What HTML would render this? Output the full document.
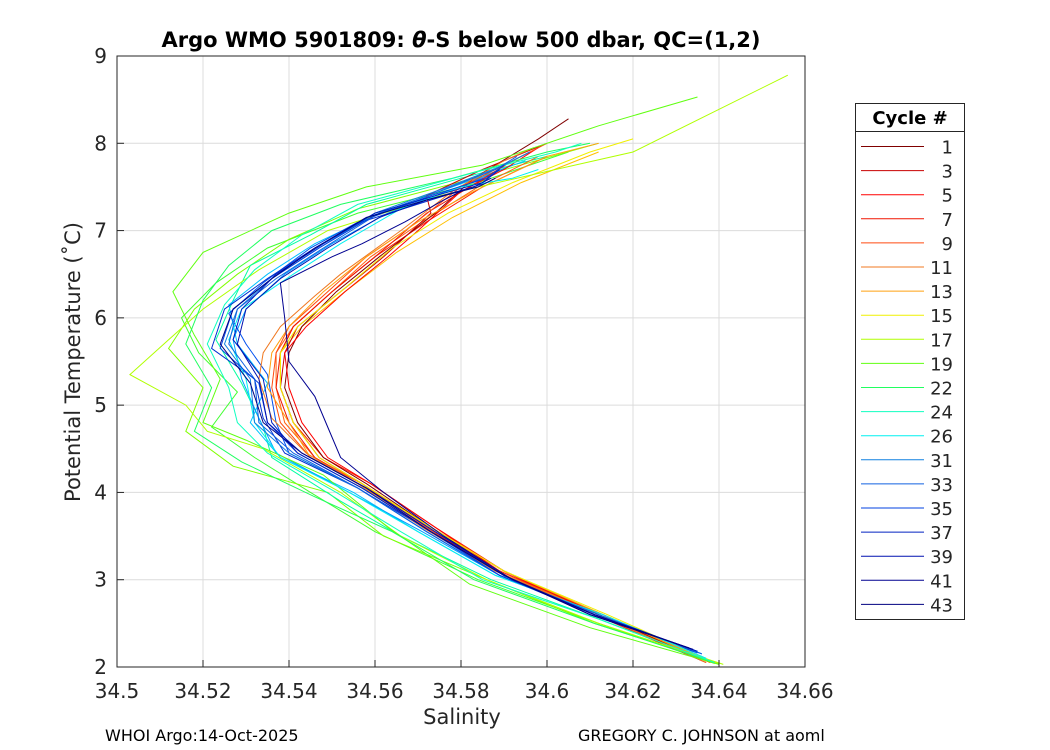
<!DOCTYPE html>
<html><head><meta charset="utf-8"><style>
body{margin:0;background:#fff;}
svg{display:block;font-family:"Liberation Sans","DejaVu Sans",sans-serif;}
</style></head><body>
<svg id="chart" width="1050" height="750">
<rect width="1050" height="750" fill="#fff"/>
<text x="461" y="47" text-anchor="middle" font-size="21" font-weight="bold" font-family="DejaVu Sans, sans-serif">Argo WMO 5901809: <tspan font-style="italic">θ</tspan>-S below 500 dbar,  QC=(1,2)</text>
<g id="grid"></g>
<g id="series"></g>
<rect x="117" y="56" width="688" height="611" fill="none" stroke="#262626" stroke-width="1"/>
<g id="ticks" font-family="DejaVu Sans, sans-serif" font-size="20" fill="#262626"></g>
<text x="462" y="724" text-anchor="middle" font-size="21" font-family="DejaVu Sans, sans-serif" fill="#262626">Salinity</text>
<text transform="translate(80,362) rotate(-90)" text-anchor="middle" font-size="21" font-family="DejaVu Sans, sans-serif" fill="#262626">Potential Temperature (˚C)</text>
<text x="105" y="741" font-size="16" font-family="DejaVu Sans, sans-serif">WHOI Argo:14-Oct-2025</text>
<text x="578" y="741" font-size="16" font-family="DejaVu Sans, sans-serif">GREGORY C. JOHNSON at aoml</text>
<g id="legend" font-family="DejaVu Sans, sans-serif"></g>
</svg>
<script>
const cycles=[1,3,5,7,9,11,13,15,17,19,22,24,26,31,33,35,37,39,41,43];
const colors=["#800000","#c80000","#ff0000","#f01500","#ff4a10","#f07820","#ffa010","#f0f000","#b0ff00","#60ff10","#20ff60","#10ffc0","#00f0f0","#1080e0","#1060e0","#0040e0","#0020c0","#0010b0","#000090","#000080"];
const xTicks=[34.5,34.52,34.54,34.56,34.58,34.6,34.62,34.64,34.66];
const yTicks=[2,3,4,5,6,7,8,9];
const sal=[
[34.638,34.612,34.59,34.573,34.558,34.548,34.542,34.539,34.540,34.543,34.551,34.561,34.574,34.583,34.598,34.605],
[34.637,34.611,34.588,34.572,34.557,34.547,34.541,34.538,34.539,34.542,34.552,34.562,34.573,34.572,34.585,34.600],
[34.638,34.613,34.589,34.574,34.559,34.549,34.543,34.540,34.539,34.544,34.553,34.563,34.570,34.580,34.590,34.598],
[34.637,34.612,34.590,34.573,34.556,34.546,34.540,34.537,34.538,34.541,34.550,34.560,34.572,34.582,34.592,34.596],
[34.638,34.611,34.589,34.572,34.557,34.545,34.538,34.536,34.537,34.540,34.549,34.558,34.567,34.580,34.594,34.600],
[34.637,34.612,34.588,34.571,34.556,34.544,34.536,34.533,34.534,34.538,34.546,34.552,34.566,34.578,34.590,34.597],
[34.638,34.613,34.590,34.573,34.556,34.545,34.540,34.535,34.536,34.540,34.548,34.558,34.570,34.583,34.600,34.612],
[34.640,34.614,34.590,34.573,34.557,34.547,34.541,34.538,34.538,34.542,34.552,34.564,34.577,34.592,34.610,34.620],
[34.641,34.612,34.586,34.566,34.552,34.534,34.521,34.516,34.503,34.512,34.520,34.533,34.549,34.575,34.620,34.656],
[34.640,34.610,34.582,34.563,34.548,34.530,34.520,34.524,34.518,34.513,34.520,34.540,34.558,34.585,34.612,34.635],
[34.639,34.611,34.583,34.564,34.546,34.529,34.518,34.522,34.516,34.520,34.526,34.536,34.552,34.578,34.600,34.610],
[34.639,34.612,34.585,34.566,34.551,34.535,34.528,34.526,34.521,34.525,34.532,34.543,34.556,34.582,34.602,34.608],
[34.637,34.613,34.588,34.570,34.554,34.538,34.532,34.530,34.526,34.529,34.541,34.552,34.566,34.580,34.592,34.598],
[34.636,34.612,34.589,34.572,34.556,34.540,34.532,34.531,34.525,34.528,34.536,34.547,34.560,34.577,34.590,34.596],
[34.636,34.612,34.589,34.572,34.556,34.541,34.533,34.532,34.526,34.528,34.537,34.548,34.561,34.575,34.588,34.593],
[34.635,34.611,34.589,34.573,34.557,34.542,34.535,34.533,34.524,34.527,34.536,34.547,34.559,34.573,34.586,34.590],
[34.635,34.611,34.590,34.573,34.557,34.542,34.536,34.534,34.527,34.529,34.537,34.548,34.560,34.574,34.585,34.589],
[34.634,34.610,34.590,34.574,34.558,34.543,34.535,34.533,34.528,34.530,34.538,34.549,34.561,34.572,34.583,34.587],
[34.634,34.611,34.592,34.576,34.562,34.552,34.549,34.546,34.540,34.539,34.538,34.550,34.557,34.567,34.576,34.580],
[34.633,34.610,34.590,34.573,34.558,34.543,34.534,34.531,34.524,34.527,34.536,34.546,34.558,34.572,34.584,34.588]
];
const temp=[
[2.05,2.6,3.1,3.6,4.1,4.4,4.8,5.2,5.6,5.9,6.3,6.7,7.2,7.6,8.05,8.28],
[2.05,2.6,3.1,3.6,4.1,4.4,4.8,5.2,5.6,5.9,6.3,6.7,7.2,7.4,7.7,8.0],
[2.05,2.6,3.1,3.6,4.1,4.4,4.8,5.2,5.6,5.9,6.3,6.7,7.0,7.45,7.7,7.95],
[2.05,2.6,3.1,3.6,4.1,4.4,4.8,5.2,5.6,5.9,6.3,6.7,7.2,7.5,7.8,7.9],
[2.05,2.6,3.1,3.6,4.1,4.4,4.8,5.2,5.6,5.9,6.3,6.7,7.0,7.5,7.85,8.0],
[2.05,2.6,3.1,3.6,4.1,4.45,4.85,5.3,5.6,5.9,6.25,6.5,7.0,7.45,7.8,7.95],
[2.05,2.6,3.1,3.6,4.1,4.4,4.8,5.2,5.6,5.9,6.3,6.7,7.1,7.45,7.85,8.0],
[2.03,2.6,3.1,3.6,4.1,4.4,4.8,5.2,5.6,5.9,6.3,6.8,7.2,7.55,7.9,8.05],
[2.03,2.5,3.0,3.5,4.0,4.5,4.7,5.0,5.35,5.75,6.1,6.55,7.0,7.4,7.9,8.78],
[2.03,2.45,2.95,3.6,4.2,4.6,4.8,5.3,5.8,6.3,6.75,7.2,7.5,7.75,8.2,8.53],
[2.05,2.5,3.0,3.55,3.95,4.35,4.7,5.2,5.7,6.2,6.6,7.0,7.3,7.6,7.9,8.0],
[2.05,2.55,3.0,3.55,4.0,4.45,4.8,5.2,5.7,6.15,6.55,6.95,7.3,7.65,7.9,8.0],
[2.1,2.6,3.05,3.55,4.0,4.4,4.8,5.3,5.75,6.1,6.5,6.85,7.25,7.5,7.6,7.7],
[2.15,2.6,3.05,3.55,4.05,4.45,4.8,5.3,5.7,6.1,6.45,6.8,7.2,7.5,7.75,7.9],
[2.15,2.6,3.05,3.55,4.05,4.45,4.8,5.3,5.7,6.1,6.45,6.8,7.2,7.45,7.7,7.85],
[2.18,2.6,3.05,3.55,4.05,4.45,4.8,5.25,5.65,6.1,6.45,6.8,7.15,7.4,7.6,7.75],
[2.18,2.6,3.05,3.55,4.05,4.45,4.8,5.3,5.75,6.1,6.5,6.85,7.2,7.4,7.55,7.7],
[2.2,2.6,3.05,3.55,4.05,4.45,4.8,5.3,5.7,6.1,6.45,6.8,7.15,7.35,7.5,7.6],
[2.2,2.6,3.0,3.5,4.0,4.4,4.75,5.1,5.5,6.0,6.4,6.7,6.85,7.1,7.35,7.45],
[2.22,2.6,3.05,3.55,4.05,4.45,4.8,5.25,5.7,6.1,6.45,6.8,7.15,7.35,7.5,7.6]
];
/* additional unlabelled profiles (intermediate cycles) */
const extraColors=["#40ff30","#80ff00","#00ffa0","#00c0ff","#00a0ff","#0050f0","#0030d0","#ff2000","#ff6010","#ffc000"];
const extraSal=[
[34.639,34.612,34.584,34.560,34.545,34.532,34.522,34.528,34.519,34.515,34.523,34.535,34.556,34.584,34.605],
[34.640,34.611,34.586,34.562,34.549,34.527,34.516,34.520,34.512,34.518,34.528,34.540,34.556,34.583,34.612],
[34.638,34.612,34.587,34.566,34.552,34.536,34.534,34.529,34.523,34.527,34.531,34.545,34.558,34.580,34.600],
[34.637,34.613,34.588,34.570,34.555,34.538,34.531,34.535,34.528,34.526,34.535,34.546,34.561,34.578,34.595],
[34.636,34.612,34.589,34.571,34.554,34.537,34.533,34.529,34.527,34.530,34.539,34.550,34.563,34.577,34.592],
[34.635,34.611,34.589,34.572,34.556,34.540,34.537,34.535,34.530,34.526,34.534,34.545,34.558,34.574,34.588],
[34.634,34.611,34.590,34.573,34.556,34.539,34.534,34.532,34.522,34.525,34.535,34.546,34.557,34.573,34.586],
[34.638,34.612,34.590,34.574,34.559,34.548,34.541,34.538,34.538,34.541,34.550,34.560,34.572,34.585,34.600],
[34.638,34.612,34.589,34.573,34.557,34.546,34.539,34.537,34.537,34.541,34.550,34.559,34.571,34.584,34.598],
[34.639,34.613,34.590,34.573,34.557,34.547,34.541,34.538,34.538,34.543,34.553,34.565,34.578,34.594,34.612]
];
const extraTemp=[
[2.04,2.5,3.0,3.55,4.0,4.4,4.75,5.15,5.6,6.0,6.4,6.8,7.2,7.55,7.9],
[2.04,2.5,3.0,3.5,4.0,4.3,4.7,5.2,5.65,6.1,6.5,6.9,7.25,7.6,8.0],
[2.06,2.55,3.0,3.5,3.9,4.4,4.75,5.25,5.75,6.2,6.6,6.95,7.3,7.6,7.85],
[2.1,2.6,3.05,3.55,4.0,4.4,4.8,5.25,5.7,6.15,6.5,6.85,7.2,7.5,7.8],
[2.12,2.6,3.05,3.55,4.0,4.45,4.85,5.3,5.75,6.1,6.5,6.85,7.2,7.45,7.75],
[2.16,2.6,3.05,3.55,4.05,4.45,4.8,5.35,5.7,6.05,6.4,6.8,7.15,7.4,7.65],
[2.18,2.6,3.05,3.55,4.05,4.45,4.85,5.3,5.65,6.1,6.45,6.8,7.1,7.35,7.55],
[2.05,2.6,3.1,3.6,4.1,4.4,4.8,5.2,5.6,5.9,6.3,6.7,7.1,7.5,7.85],
[2.05,2.6,3.1,3.6,4.1,4.4,4.8,5.2,5.6,5.9,6.3,6.7,7.1,7.5,7.85],
[2.04,2.6,3.1,3.6,4.1,4.4,4.8,5.2,5.6,5.9,6.3,6.75,7.15,7.55,7.9]
];
const X0=117,X1=805,Y0=667,Y1=56;
const xs=s=>X0+(s-34.5)/(34.66-34.5)*(X1-X0);
const ys=t=>Y0-(t-2)/(9-2)*(Y0-Y1);
const NS="http://www.w3.org/2000/svg";
const grid=document.getElementById('grid'),ticks=document.getElementById('ticks'),ser=document.getElementById('series'),leg=document.getElementById('legend');
function mk(tag,attrs,parent){const e=document.createElementNS(NS,tag);for(const k in attrs)e.setAttribute(k,attrs[k]);parent.appendChild(e);return e;}
xTicks.forEach(v=>{const x=xs(v);
 const g=mk('line',{x1:x,x2:x,y1:Y1,y2:Y0,stroke:'#dcdcdc','stroke-width':1},grid);
 
 
 mk('line',{x1:x,x2:x,y1:Y0,y2:Y0-7,stroke:'#262626'},ticks);
 const t=mk('text',{x:x,y:698,'text-anchor':'middle'},ticks);t.textContent=v;
 
 });
yTicks.forEach(v=>{const y=ys(v);
 const g=mk('line',{x1:X0,x2:X1,y1:y,y2:y,stroke:'#dcdcdc','stroke-width':1},grid);
 
 
 mk('line',{x1:X0,x2:X0+7,y1:y,y2:y,stroke:'#262626'},ticks);
 const t=mk('text',{x:107,y:y+7,'text-anchor':'end'},ticks);t.textContent=v;
 
 });
extraSal.forEach((arr,i)=>{const pts=arr.map((s,j)=>xs(s).toFixed(1)+','+ys(extraTemp[i][j]).toFixed(1)).join(' ');
 const p=mk('polyline',{points:pts,fill:'none',stroke:extraColors[i],'stroke-width':1},ser);
 
 });
sal.forEach((arr,i)=>{const pts=arr.map((s,j)=>xs(s).toFixed(1)+','+ys(temp[i][j]).toFixed(1)).join(' ');
 const p=mk('polyline',{points:pts,fill:'none',stroke:colors[i],'stroke-width':1},ser);
 
 });
const lb=mk('rect',{x:855.5,y:103.5,width:109,height:516,fill:'#fff',stroke:'#262626'},leg);


mk('line',{x1:855.5,x2:964.5,y1:131.5,y2:131.5,stroke:'#262626'},leg);
const h=mk('text',{x:910,y:124,'text-anchor':'middle','font-size':18,'font-weight':'bold'},leg);h.textContent='Cycle #';


cycles.forEach((c,i)=>{const y=146.5+i*24.1;
 mk('line',{x1:861,x2:924,y1:y,y2:y,stroke:colors[i],'stroke-width':1},leg);
 const t=mk('text',{x:953,y:y+7,'text-anchor':'end','font-size':18,fill:'#262626'},leg);t.textContent=c;
 
 });
</script>
</body></html>
